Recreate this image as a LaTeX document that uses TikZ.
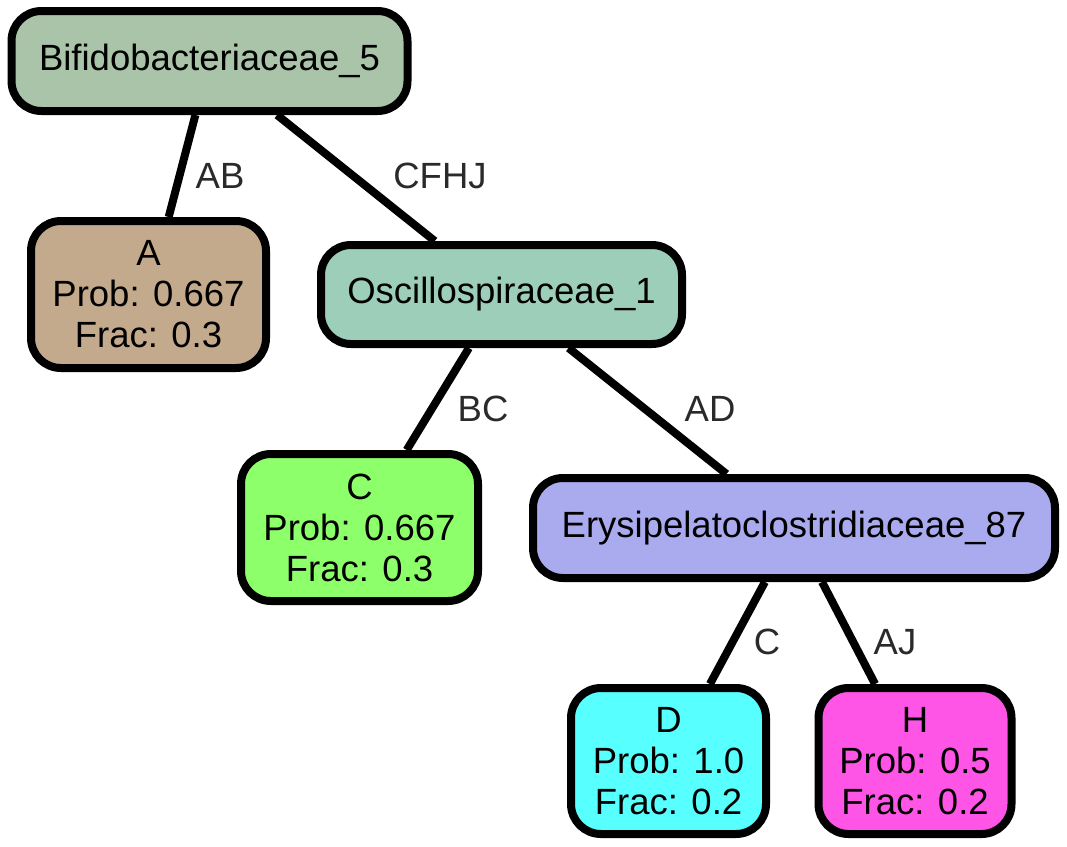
\documentclass[tikz,border=0pt]{standalone}
\usepackage{fontspec}
\setmainfont{Liberation Sans}
\definecolor{cBifido}{RGB}{169,196,169}
\definecolor{cA}{RGB}{196,170,140}
\definecolor{cOsc}{RGB}{157,206,185}
\definecolor{cC}{RGB}{141,255,106}
\definecolor{cEry}{RGB}{170,170,238}
\definecolor{cD}{RGB}{88,255,255}
\definecolor{cH}{RGB}{255,85,230}
\definecolor{labelgray}{RGB}{42,42,42}
\tikzset{
  tnode/.style={draw=black, line width=8pt, rounded corners=30pt, rectangle,
    align=center, inner sep=0pt, font=\fontsize{36.5pt}{41pt}\selectfont},
  tedge/.style={draw=black, line width=8pt},
  elabel/.style={text=labelgray, inner sep=0pt, font=\fontsize{36.5pt}{41pt}\selectfont}
}
\begin{document}
\begin{tikzpicture}[x=1pt, y=-1pt]
\useasboundingbox (0,0) rectangle (1067,846);
\node[tnode, fill=cBifido, minimum width=396pt, minimum height=100pt] (bif) at (209.5,61) {Bifidobacteriaceae\_5};
\node[tnode, fill=cA, minimum width=235pt, minimum height=147pt] (a) at (148.5,294.5) {A\\Prob: 0.667\\Frac: 0.3};
\node[tnode, fill=cOsc, minimum width=361pt, minimum height=99pt] (osc) at (501.5,294.5) {Oscillospiraceae\_1};
\node[tnode, fill=cC, minimum width=237pt, minimum height=147pt] (c) at (359.5,527.5) {C\\Prob: 0.667\\Frac: 0.3};
\node[tnode, fill=cEry, minimum width=522pt, minimum height=100pt] (ery) at (794,528) {Erysipelatoclostridiaceae\_87};
\node[tnode, fill=cD, minimum width=195pt, minimum height=146pt] (d) at (668.5,761) {D\\Prob: 1.0\\Frac: 0.2};
\node[tnode, fill=cH, minimum width=193pt, minimum height=146pt] (h) at (915,761) {H\\Prob: 0.5\\Frac: 0.2};
\draw[tedge] (bif) -- (a);
\draw[tedge] (bif) -- (osc);
\draw[tedge] (osc) -- (c);
\draw[tedge] (osc) -- (ery);
\draw[tedge] (ery) -- (d);
\draw[tedge] (ery) -- (h);
\node[elabel] (lab) at (220,176) {AB};
\node[elabel] (lcfhj) at (440,176) {CFHJ};
\node[elabel] (lbc) at (483,409) {BC};
\node[elabel] (lad) at (710,409) {AD};
\node[elabel] (lc) at (767,642) {C};
\node[elabel] (laj) at (895,642) {AJ};
\end{tikzpicture}
\end{document}
